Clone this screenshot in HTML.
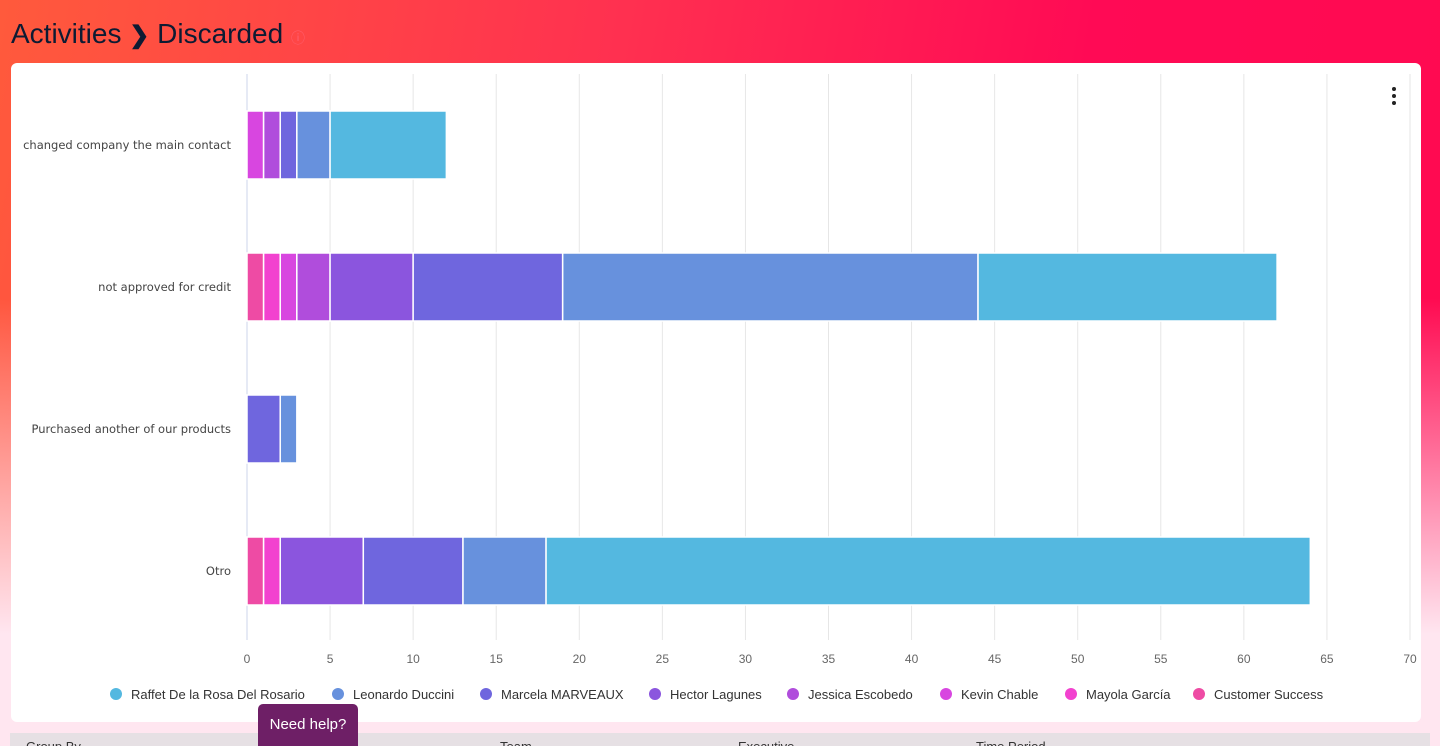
<!DOCTYPE html>
<html style="overflow:hidden;width:1440px;height:746px"><head><meta charset="utf-8">
<style>
body{margin:0;width:1440px;height:746px;overflow:hidden;font-family:"Liberation Sans",sans-serif;position:relative;
background:linear-gradient(180deg,rgba(255,255,255,0) 0%,rgba(255,255,255,0) 40%,rgba(255,230,240,1) 85%),linear-gradient(100deg,#ff5a3c 0%,#ff3050 40%,#ff0a55 70%,#ff0a50 100%);}
.title{position:absolute;left:11px;top:18px;font-size:28px;color:#0d1b33;}
.card{position:absolute;left:11px;top:63px;width:1410px;height:659px;background:#fff;border-radius:6px;}
.strip{position:absolute;left:10px;top:733px;width:1420px;height:13px;overflow:hidden;background:#e6e0e4;}
.help{position:absolute;left:258px;top:704px;width:100px;height:42px;background:#6e1f66;color:#fff;font-size:15px;text-align:center;line-height:42px;border-radius:5px 5px 0 0;}
</style></head><body>
<div class="title">Activities <b style="font-size:24px">❯</b> Discarded <span style="color:#ff6070;font-size:14px">ⓘ</span></div>
<div class="card"></div>
<div class="strip"><span style="position:absolute;left:16px;top:6px;font-size:13px;color:#333">Group By</span><span style="position:absolute;left:490px;top:6px;font-size:13px;color:#333">Team</span><span style="position:absolute;left:728px;top:6px;font-size:13px;color:#333">Executive</span><span style="position:absolute;left:966px;top:6px;font-size:13px;color:#333">Time Period</span></div>
<svg id="chart" width="1440" height="746" style="position:absolute;left:0;top:0"></svg>
<div class="help">Need help?</div>
<script>
const categories=["changed company the main contact","not approved for credit","Purchased another of our products","Otro"];
const seriesNames=["Raffet De la Rosa Del Rosario","Leonardo Duccini","Marcela MARVEAUX","Hector Lagunes","Jessica Escobedo","Kevin Chable","Mayola García","Customer Success"];
const raffet=[7,18,0,46];
const leonardo=[2,25,1,5];
const marcela=[1,9,2,6];
const hector=[0,5,0,5];
const jessica=[1,2,0,0];
const kevin=[1,1,0,0];
const mayola=[0,1,0,1];
const customerSuccess=[0,1,0,1];
const ticks=[0,5,10,15,20,25,30,35,40,45,50,55,60,65,70];
const colors=["#54b8e0","#6791dd","#6f66de","#8b55de","#b04ddc","#d846e0","#f242cf","#ee4ba4"];
const series=[raffet,leonardo,marcela,hector,jessica,kevin,mayola,customerSuccess];
const svg=document.getElementById('chart');const NS="http://www.w3.org/2000/svg";
const x0=247,x1=1410,maxV=70,plotTop=74,plotBottom=642;
const xs=v=>x0+(x1-x0)*v/maxV;
const band=(plotBottom-plotTop)/categories.length;
const yc=i=>plotTop+band*(i+0.5);
function mk(t,a){const e=document.createElementNS(NS,t);for(const k in a)e.setAttribute(k,a[k]);svg.appendChild(e);return e;}
ticks.forEach(t=>{
 const g=mk('line',{x1:xs(t),x2:xs(t),y1:plotTop,y2:640,stroke:t===0?'#ccd6eb':'#e6e6e6','stroke-width':1});
 
 
 const l=mk('text',{x:xs(t),y:663,'text-anchor':'middle','font-size':12,fill:'#666','font-family':'Liberation Sans, sans-serif'});l.textContent=t;
 
 
});
categories.forEach((c,i)=>{
 const l=mk('text',{x:231,y:yc(i)+4,'text-anchor':'end','font-size':11.5,fill:'#444','font-family':'DejaVu Sans, sans-serif'});l.textContent=c;
 
 
 let acc=0;
 for(let s=series.length-1;s>=0;s--){const v=series[s][i];if(!v)continue;
  const r=mk('rect',{x:xs(acc),y:yc(i)-34,width:xs(acc+v)-xs(acc),height:68,fill:colors[s],stroke:'#fff','stroke-width':1.5});
  
  
  acc+=v;}
});
const lx=[110,332,480,649,787,940,1065,1193];
seriesNames.forEach((n,s)=>{
 const c=mk('circle',{cx:lx[s]+6,cy:694,r:6,fill:colors[s]});
 
 
 const t=mk('text',{x:lx[s]+21,y:699,'font-size':13,fill:'#333','font-family':'Liberation Sans, sans-serif'});t.textContent=n;
 
 
});
[89,96,103].forEach(y=>{const d=mk('circle',{cx:1394,cy:y,r:2,fill:'#222'});
 
 });
</script>
</body></html>
